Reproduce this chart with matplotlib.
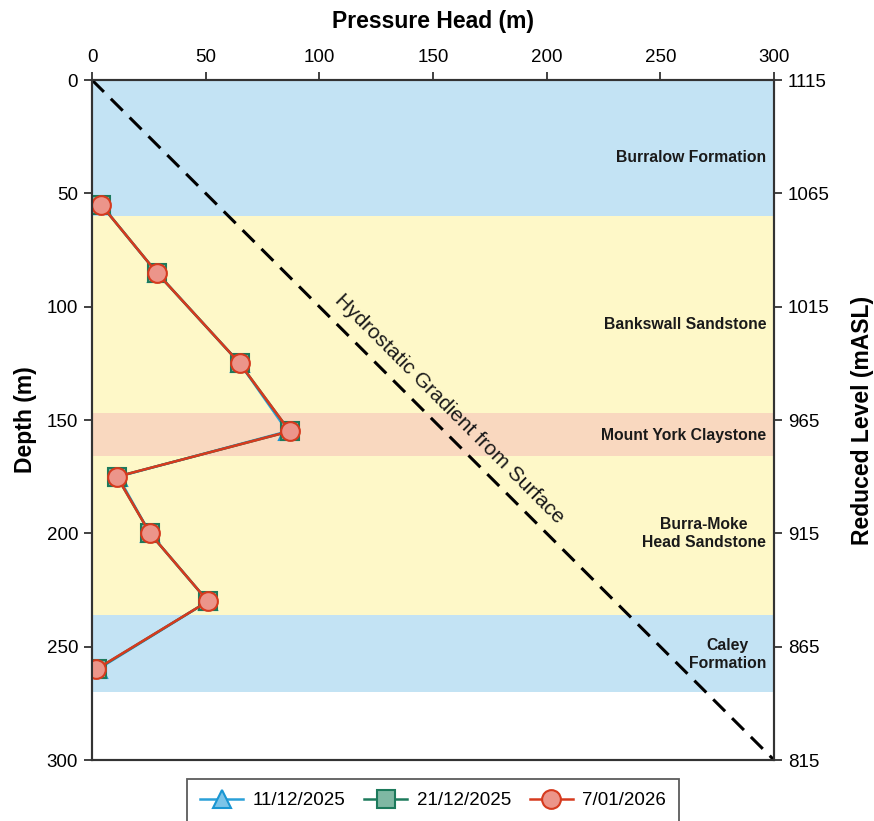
import matplotlib
matplotlib.use("Agg")
import matplotlib.pyplot as plt
from matplotlib.lines import Line2D

plt.rcParams['font.family'] = ['Liberation Sans', 'DejaVu Sans']

# Data
depth = [55, 85, 125, 155, 175, 200, 230, 260]
head_1112 = [4.0, 28.5, 65.0, 86.0, 11.5, 25.5, 51.0, 2.5]
head_2112 = [4.0, 28.5, 65.0, 87.0, 11.0, 25.5, 51.0, 2.0]
head_0701 = [4.0, 28.5, 65.0, 87.0, 11.0, 25.5, 51.0, 1.8]
series_labels = ['11/12/2025', '21/12/2025', '7/01/2026']

layer_tops = [0, 60, 147, 166, 236]
layer_bottoms = [60, 147, 166, 236, 270]
layer_names = ['Burralow Formation', 'Bankswall Sandstone', 'Mount York Claystone',
               'Burra-Moke\nHead Sandstone', 'Caley\nFormation']
layer_label_depth = [34, 108, 157, 200, 253.5]
layer_colors = ['#c3e3f4', '#fef8c8', '#f9d8bf', '#fef8c8', '#c3e3f4']

hydro_head = [0, 300]
hydro_depth = [0, 300]

x_ticks = [0, 50, 100, 150, 200, 250, 300]
y_ticks = [0, 50, 100, 150, 200, 250, 300]
rl_ticks = [1115, 1065, 1015, 965, 915, 865, 815]
surface_rl = 1115

fig = plt.figure(figsize=(8.74, 8.21), dpi=100)
ax = fig.add_axes([92/874, 1-760/821, (774-92)/874, (760-80)/821])

for top, bot, c in zip(layer_tops, layer_bottoms, layer_colors):
    ax.axhspan(top, bot, color=c, lw=0, zorder=0)

for name, d in zip(layer_names, layer_label_depth):
    ax.text(296.5, d, name, ha='right', va='center', multialignment='center',
            fontsize=11.3, fontweight='bold', color='#1a1a1a', linespacing=1.2, zorder=2)

ax.plot(hydro_head, hydro_depth, color='black', lw=2.2, dashes=(5.5, 3.2), zorder=3,
        solid_capstyle='butt', dash_capstyle='butt')
ax.text(154, 148, 'Hydrostatic Gradient from Surface', rotation=-45, rotation_mode='anchor',
        ha='center', va='bottom', fontsize=15, color='#1a1a1a', zorder=3,
        transform=ax.transData)

l1, = ax.plot(head_1112, depth, color='#2aa0d8', lw=1.8, marker='^', ms=13.5,
              mfc='#7cc4e8', mec='#1a96d2', mew=1.5, zorder=4)
l2, = ax.plot(head_2112, depth, color='#1d7a5c', lw=1.8, marker='s', ms=13,
              mfc='#7fb8a3', mec='#1d7a5c', mew=1.5, zorder=5)
l3, = ax.plot(head_0701, depth, color='#d63a1e', lw=1.8, marker='o', ms=13.5,
              mfc='#ec958a', mec='#d63a1e', mew=1.5, zorder=6)

ax.set_xlim(0, 300)
ax.set_ylim(300, 0)
ax.xaxis.tick_top()
ax.xaxis.set_label_position('top')
ax.set_xticks(x_ticks)
ax.set_yticks(y_ticks)
ax.tick_params(axis='both', labelsize=13.5, length=6, width=1.3, color='#333333', pad=4)
ax.set_xlabel('Pressure Head (m)', fontsize=16.5, fontweight='bold', labelpad=15)
ax.set_ylabel('Depth (m)', fontsize=16.5, fontweight='bold', labelpad=7)
for s in ax.spines.values():
    s.set_color('#333333')
    s.set_linewidth(1.5)

ax2 = ax.twinx()
ax2.set_ylim(surface_rl - 300, surface_rl - 0)
ax2.set_yticks(rl_ticks)
ax2.tick_params(axis='y', labelsize=13.5, length=6, width=1.3, color='#333333', pad=4)
ax2.set_ylabel('Reduced Level (mASL)', fontsize=16.5, fontweight='bold', labelpad=15)
for s in ax2.spines.values():
    s.set_color('#333333')
    s.set_linewidth(1.5)

leg = ax.legend([l1, l2, l3], series_labels, loc='upper center', bbox_to_anchor=(0.5, -0.028),
                ncol=3, fontsize=13.5, frameon=True, fancybox=False, edgecolor='#333333',
                handlelength=2.3, handletextpad=0.5, columnspacing=1.0, borderpad=0.7,
                borderaxespad=0)
leg.get_frame().set_linewidth(1.3)

fig.savefig('out.png', dpi=100)
